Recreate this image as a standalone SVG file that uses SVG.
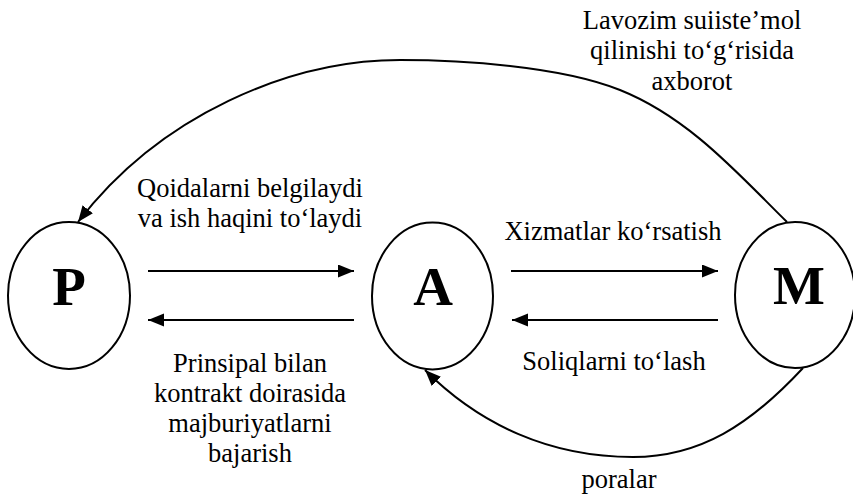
<svg xmlns="http://www.w3.org/2000/svg" width="853" height="494" viewBox="0 0 853 494">
<style>
.node{fill:#fff;stroke:#000;stroke-width:2}
.big{font-family:"Liberation Serif","Times New Roman",serif;font-weight:bold;font-size:55px;text-anchor:middle;fill:#000}
.lbl{font-family:"Liberation Serif","Times New Roman",serif;font-size:26.5px;text-anchor:middle;fill:#000}
.edge{fill:none;stroke:#000;stroke-width:2}
</style>
<defs>
<marker id="ah" markerUnits="userSpaceOnUse" markerWidth="17" markerHeight="14" refX="16" refY="6.5" orient="auto">
<path d="M0,0 L16,6.5 L0,13 z" fill="#000"/>
</marker>
</defs>
<rect width="853" height="494" fill="#fff"/>
<g id="node-P">
<ellipse class="node" cx="69" cy="295.5" rx="61" ry="73.5"/>
<text class="big" x="69" y="305">P</text>
</g>
<g id="node-A">
<ellipse class="node" cx="432.5" cy="296" rx="60.5" ry="73.5"/>
<text class="big" x="433" y="305">A</text>
</g>
<g id="node-M">
<ellipse class="node" cx="795" cy="295" rx="60" ry="73"/>
<text class="big" x="799" y="304">M</text>
</g>
<g id="connectors">
<line class="edge" x1="148" y1="271" x2="354" y2="271" marker-end="url(#ah)"/>
<line class="edge" x1="354" y1="320" x2="148" y2="320" marker-end="url(#ah)"/>
<line class="edge" x1="511" y1="271" x2="718" y2="271" marker-end="url(#ah)"/>
<line class="edge" x1="718" y1="320" x2="512" y2="320" marker-end="url(#ah)"/>
<path class="edge" d="M787,222 C740,176 690,118 620,90 C560,66 460,60 400,60 C290,60 160,115 78,222" marker-end="url(#ah)"/>
<path class="edge" d="M803,368 C750,425 700,457 633,457 C550,457 480,425 425,370" marker-end="url(#ah)"/>
</g>
<g id="labels">
<text class="lbl" x="250" y="197">Qoidalarni belgilaydi</text>
<text class="lbl" x="250" y="227">va ish haqini to‘laydi</text>
<text class="lbl" x="613" y="240">Xizmatlar ko‘rsatish</text>
<text class="lbl" x="614" y="370">Soliqlarni to‘lash</text>
<text class="lbl" x="692" y="28.5">Lavozim suiiste’mol</text>
<text class="lbl" x="692" y="59">qilinishi to‘g‘risida</text>
<text class="lbl" x="692" y="89.5">axborot</text>
<text class="lbl" x="250" y="372">Prinsipal bilan</text>
<text class="lbl" x="250" y="402">kontrakt doirasida</text>
<text class="lbl" x="250" y="432">majburiyatlarni</text>
<text class="lbl" x="250" y="462">bajarish</text>
<text class="lbl" x="619" y="488">poralar</text>
</g>
</svg>
